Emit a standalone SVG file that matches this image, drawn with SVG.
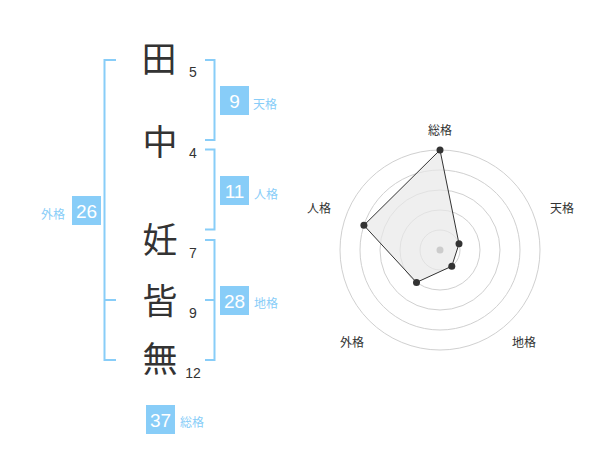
<svg xmlns="http://www.w3.org/2000/svg" width="600" height="470" viewBox="0 0 600 470">
<style>
.kanji{font-family:"Noto Sans CJK JP","Noto Sans CJK SC",sans-serif;font-size:35px;fill:#333;text-anchor:middle}
.stroke{font-family:"Liberation Sans",Arial,sans-serif;font-size:14px;fill:#333;text-anchor:middle}
.badge{fill:#88cdf8}
.bnum{font-family:"Liberation Sans",Arial,sans-serif;font-size:19px;fill:#fff;text-anchor:middle}
.blab{font-family:"Noto Sans CJK JP","Noto Sans CJK SC",sans-serif;font-size:12px;fill:#88cdf8}
.br{fill:none;stroke:#88cdf8;stroke-width:2}
.ring{fill:none;stroke:#d0d0d0;stroke-width:1}
.rlab{font-family:"Noto Sans CJK JP","Noto Sans CJK SC",sans-serif;font-size:12px;fill:#333;text-anchor:middle}
.dot{fill:#333}
</style>
<rect width="600" height="470" fill="#fff"/>
<g id="connectors">
<path class="br" d="M116,60 H104.5 V360 H116 M104.5,300 H116"/>
<path class="br" d="M205,60 H214.5 V140 H205"/>
<path class="br" d="M205,149.5 H214.5 V229.5 H205"/>
<path class="br" d="M205,240 H214.5 V360 H205 M214.5,300 H205"/>
</g>
<g id="char-1"><text class="kanji" x="159" y="72">田</text><text class="stroke" x="193" y="77">5</text></g>
<g id="char-2"><text class="kanji" x="160" y="155">中</text><text class="stroke" x="193" y="158">4</text></g>
<g id="char-3"><text class="kanji" x="160" y="253">妊</text><text class="stroke" x="193" y="258">7</text></g>
<g id="char-4"><text class="kanji" x="160" y="314">皆</text><text class="stroke" x="193" y="318">9</text></g>
<g id="char-5"><text class="kanji" x="160" y="372">無</text><text class="stroke" x="193" y="378">12</text></g>
<g id="tenkaku"><rect class="badge" x="220" y="86" width="29" height="29"/><text class="bnum" x="234.5" y="107.5">9</text><text class="blab" x="253" y="108.5">天格</text></g>
<g id="jinkaku"><rect class="badge" x="220" y="176" width="29" height="29"/><text class="bnum" x="234.5" y="197.5">11</text><text class="blab" x="254" y="198.5">人格</text></g>
<g id="gaikaku"><rect class="badge" x="72" y="196" width="29" height="29"/><text class="bnum" x="86.5" y="217.5">26</text><text class="blab" x="41" y="218.5">外格</text></g>
<g id="chikaku"><rect class="badge" x="220" y="286" width="29" height="29"/><text class="bnum" x="234.5" y="307.5">28</text><text class="blab" x="254" y="307.5">地格</text></g>
<g id="soukaku"><rect class="badge" x="146" y="405" width="29" height="29"/><text class="bnum" x="160.5" y="426.5">37</text><text class="blab" x="180" y="427">総格</text></g>
<g id="radar">
<circle class="ring" cx="440" cy="250" r="20"/>
<circle class="ring" cx="440" cy="250" r="40"/>
<circle class="ring" cx="440" cy="250" r="60"/>
<circle class="ring" cx="440" cy="250" r="80"/>
<circle class="ring" cx="440" cy="250" r="100"/>
<polygon points="440,150 459,243.8 451.8,266.2 416.5,282.4 363.9,225.3" fill="#e8e8e8" fill-opacity="0.7" stroke="#333" stroke-width="1"/>
<circle cx="440" cy="250" r="3.5" fill="#ccc"/>
<circle class="dot" cx="440" cy="150" r="3.5"/>
<circle class="dot" cx="459" cy="243.8" r="3.5"/>
<circle class="dot" cx="451.8" cy="266.2" r="3.5"/>
<circle class="dot" cx="416.5" cy="282.4" r="3.5"/>
<circle class="dot" cx="363.9" cy="225.3" r="3.5"/>
<text class="rlab" x="440" y="134.5">総格</text>
<text class="rlab" x="562" y="212.5">天格</text>
<text class="rlab" x="524" y="347">地格</text>
<text class="rlab" x="352" y="346.5">外格</text>
<text class="rlab" x="319" y="213">人格</text>
</g>
</svg>
